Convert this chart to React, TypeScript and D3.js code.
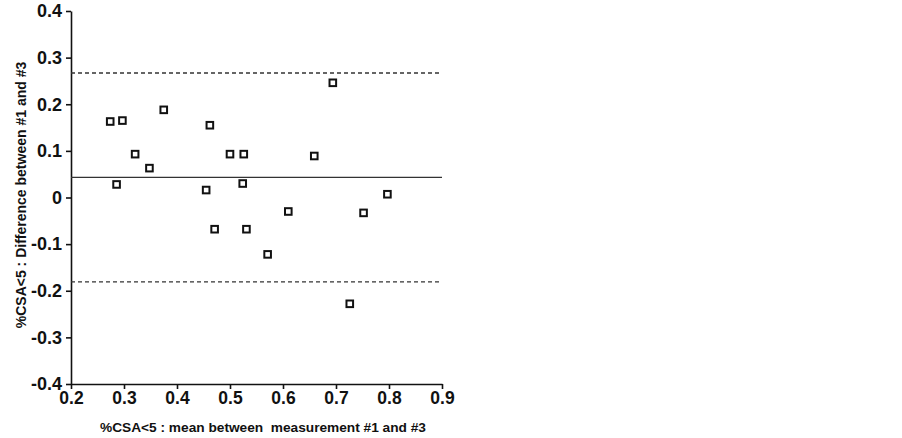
import React, { useRef, useEffect } from 'react';
import * as d3 from 'd3';

// mean of the two measurements (x) and their difference (y)
const meanValues = [
  0.274, 0.297, 0.286, 0.321, 0.348, 0.375, 0.462, 0.455, 0.5, 0.526,
  0.524, 0.659, 0.694, 0.61, 0.752, 0.797, 0.471, 0.531, 0.571, 0.726,
];
const diffValues = [
  0.163, 0.165, 0.028, 0.093, 0.063, 0.188, 0.155, 0.016, 0.093, 0.093,
  0.03, 0.089, 0.246, -0.03, -0.033, 0.007, -0.068, -0.068, -0.122, -0.228,
];
const bias = 0.043;
const limits = [0.267, -0.181];
const xTicks = [0.2, 0.3, 0.4, 0.5, 0.6, 0.7, 0.8, 0.9];
const yTicks = [0.4, 0.3, 0.2, 0.1, 0, -0.1, -0.2, -0.3, -0.4];

const xTitle = '%CSA<5 : mean between\u00a0 measurement #1 and #3';
const yTitle = '%CSA<5 : Difference between #1 and #3';

const App = () => {
  const svgRef = useRef<SVGSVGElement>(null);
  const width = 902;
  const height = 438;

  useEffect(() => {
    if (!svgRef.current) return;
    const svg = d3.select(svgRef.current);
    svg.selectAll('*').remove();

    const left = 71, right = 442, top = 11, bottom = 384;
    const font = 'Liberation Sans, Arial, Helvetica, sans-serif';

    const x = d3.scaleLinear().domain([0.2, 0.9]).range([left, right]);
    const y = d3.scaleLinear().domain([-0.4, 0.4]).range([bottom, top]);

    // X axis
    const gx = svg.append('g')
      .attr('transform', `translate(0, ${bottom})`)
      .call(d3.axisBottom(x).tickValues(xTicks).tickSize(5).tickSizeOuter(0).tickPadding(3)
        .tickFormat(d => String(d)));
    gx.select('.domain').attr('stroke', '#111').attr('stroke-width', 1.6);
    gx.selectAll('.tick line').attr('stroke', '#111').attr('stroke-width', 1.6);
    gx.selectAll('.tick text')
      .attr('fill', '#111')
      .attr('font-family', font)
      .attr('font-weight', 'bold')
      .attr('font-size', 17.5);

    // Y axis
    const gy = svg.append('g')
      .attr('transform', `translate(${left}, 0)`)
      .call(d3.axisLeft(y).tickValues(yTicks).tickSize(5).tickSizeOuter(0).tickPadding(4)
        .tickFormat(d => String(d)));
    gy.select('.domain').attr('stroke', '#111').attr('stroke-width', 1.6);
    gy.selectAll('.tick line').attr('stroke', '#111').attr('stroke-width', 1.6);
    gy.selectAll('.tick text')
      .attr('fill', '#111')
      .attr('font-family', font)
      .attr('font-weight', 'bold')
      .attr('font-size', 18);

    // bias line
    svg.append('line')
      .attr('x1', x(0.2)).attr('x2', x(0.9))
      .attr('y1', y(bias)).attr('y2', y(bias))
      .attr('stroke', '#333').attr('stroke-width', 1.3);

    // limits of agreement
    svg.selectAll('.limit')
      .data(limits)
      .enter()
      .append('line')
      .attr('class', 'limit')
      .attr('x1', x(0.2)).attr('x2', x(0.9))
      .attr('y1', d => y(d)).attr('y2', d => y(d))
      .attr('stroke', '#333').attr('stroke-width', 1.3)
      .attr('stroke-dasharray', '4,3');

    // points
    const pts = meanValues.map((m, i) => ({ m, d: diffValues[i] }));
    svg.selectAll('.pt')
      .data(pts)
      .enter()
      .append('rect')
      .attr('class', 'pt')
      .attr('x', p => x(p.m) - 3.3)
      .attr('y', p => y(p.d) - 3.3)
      .attr('width', 6.6)
      .attr('height', 6.6)
      .attr('fill', 'white')
      .attr('stroke', '#111')
      .attr('stroke-width', 2);

    // titles
    svg.append('text')
      .attr('x', 263)
      .attr('y', 432)
      .attr('text-anchor', 'middle')
      .attr('font-family', font)
      .attr('font-weight', 'bold')
      .attr('font-size', 13.7)
      .attr('fill', '#111')
      .text(xTitle);

    svg.append('text')
      .attr('transform', `translate(26, 195) rotate(-90)`)
      .attr('text-anchor', 'middle')
      .attr('font-family', font)
      .attr('font-weight', 'bold')
      .attr('font-size', 14)
      .attr('fill', '#111')
      .text(yTitle);
  }, []);

  return (
    <svg
      ref={svgRef}
      width={width}
      height={height}
      style={{ position: 'absolute', left: 0, top: 0, background: 'white' }}
    />
  );
};

export default App;
